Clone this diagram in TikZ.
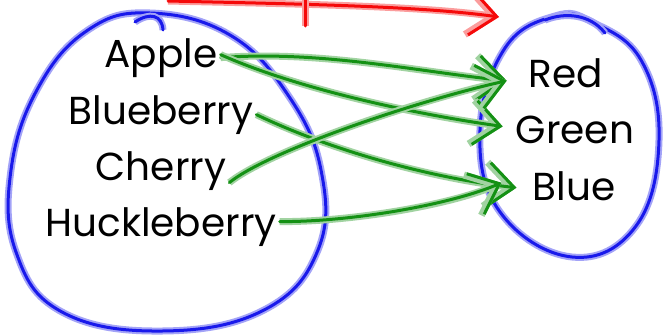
\documentclass[tikz,border=0pt]{standalone}
\usepackage{fontspec}
\setmainfont{Poppins}
\usetikzlibrary{arrows.meta}

\definecolor{penblue}{RGB}{25,25,235}
\definecolor{pengreen}{RGB}{20,145,20}
\definecolor{penred}{RGB}{245,10,10}

\tikzset{
  ink/.style={draw=pen#1, line width=3pt, line cap=round, line join=round,
    preaction={draw=pen#1!40, line width=7pt}},
  word/.style={font=\fontsize{39}{45}\selectfont, inner sep=3pt},
  barb/.style={-{Straight Barb[length=26pt,width=44pt]}},
}

\begin{document}
\begin{tikzpicture}[x=1pt,y=-1pt]
  \useasboundingbox (0,0) rectangle (663,335);

  %-------------------------
  % Dominio (izquierda)
  %-------------------------
  \draw[ink=blue] plot[smooth cycle,tension=0.7] coordinates
    {(150,13) (88,30) (38,88) (11,170) (16,252) (62,312) (162,331)
     (264,310) (318,250) (321,170) (288,95) (230,35)};
  \draw[ink=blue] (135,22) .. controls (150,12) and (162,15) .. (163,30);

  \node[word,anchor=base] (apple)  at (161,67)  {Apple};
  \node[word,anchor=base] (blueb)  at (161,124) {Blueberry};
  \node[word,anchor=base] (cherry) at (161,180) {Cherry};
  \node[word,anchor=base] (huckle) at (161,236) {Huckleberry};

  %-------------------------
  % Codominio (derecha)
  %-------------------------
  \draw[ink=blue] plot[smooth cycle,tension=0.7] coordinates
    {(555,16) (505,48) (480,130) (500,212) (572,257) (636,226)
     (659,140) (641,60) (592,22)};
  \draw[ink=blue] (545,20) .. controls (565,12) and (590,14) .. (605,33);

  \node[word,anchor=base] (red)   at (566,87)  {Red};
  \node[word,anchor=base] (green) at (575,143) {Green};
  \node[word,anchor=base] (blue)  at (574,200) {Blue};

  %-------------------------
  % Flecha de la funcion
  %-------------------------
  \coordinate (fstart) at (168,1);
  \coordinate (fend)   at (499,17);
  \draw[ink=red,barb] (fstart) .. controls (300,4) and (420,6) .. (fend);
  \draw[ink=red] (305,-5) -- (305,26);

  %-------------------------
  % Asignaciones
  %-------------------------
  \draw[ink=green,barb] (apple.east) .. controls (320,50) and (420,72)
        .. ([xshift=-19pt,yshift=-8pt]red.west);
  \draw[ink=green,barb] ([yshift=3pt]apple.east) .. controls (300,90) and (420,115)
        .. ([xshift=-10pt,yshift=3pt]green.west);
  \draw[ink=green,barb] (blueb.east) .. controls (330,150) and (430,178)
        .. ([xshift=-13pt,yshift=-2pt]blue.west);
  \draw[ink=green,barb] ([yshift=-12pt]cherry.east) .. controls (270,150) and (420,100)
        .. ([xshift=-19pt,yshift=-8pt]red.west);
  \draw[ink=green,barb] ([yshift=5pt]huckle.east) .. controls (350,222) and (450,205)
        .. ([xshift=-28pt,yshift=3pt]blue.west);
\end{tikzpicture}
\end{document}
